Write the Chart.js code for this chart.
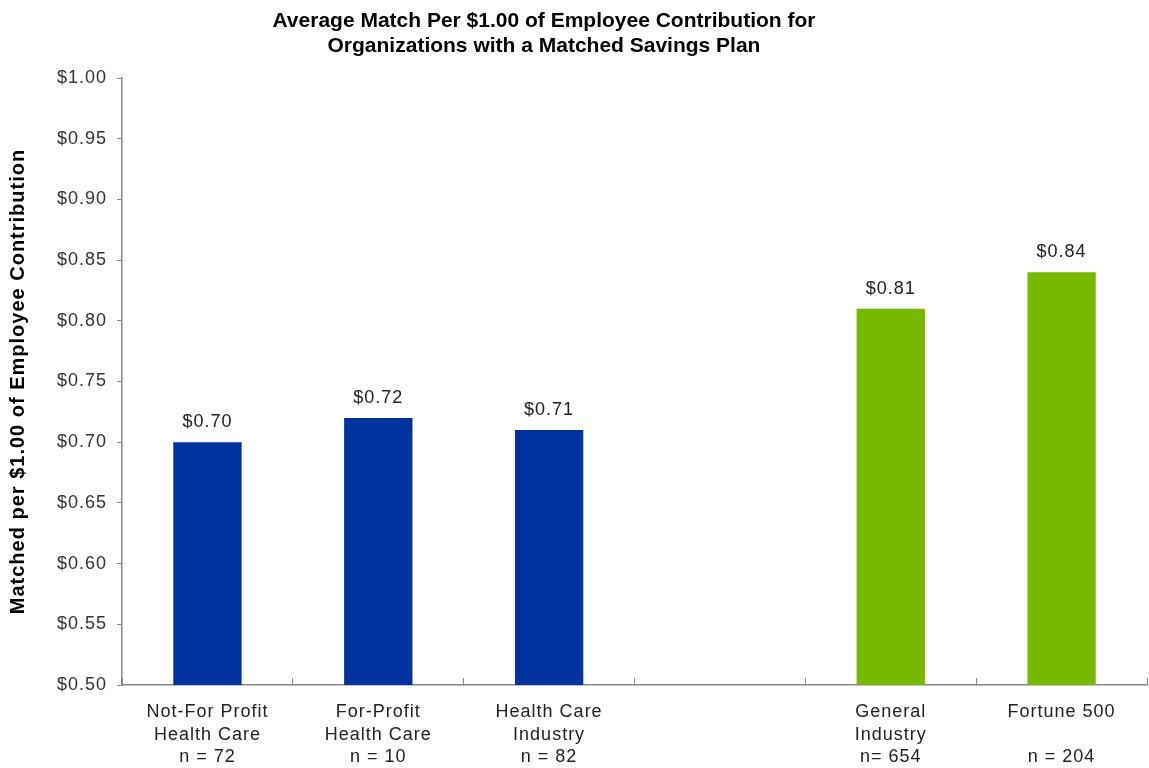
<!DOCTYPE html>
<html>
<head>
<meta charset="utf-8">
<script src="https://cdn.jsdelivr.net/npm/chart.js@4.4.0/dist/chart.umd.min.js"></script>
<style>
    html, body { margin: 0; padding: 0; background: #fff; }
    #wrap { position: relative; width: 1149px; height: 768px; }
    #titulo {
        position: absolute; left: 0; top: 7px; width: 1088px;
        text-align: center; font: bold 21px "Liberation Sans", Arial, sans-serif;
        line-height: 25px; color: #000;
    }
</style>
</head>
<body>
<div id="wrap">
    <div id="titulo">Average Match Per $1.00 of Employee Contribution for<br>Organizations with a Matched Savings Plan</div>
    <canvas id="grafico" width="1149" height="768"></canvas>
</div>
<script>
const categorias = [
    ["Not-For Profit", "Health Care", "n = 72"],
    ["For-Profit", "Health Care", "n = 10"],
    ["Health Care", "Industry", "n = 82"],
    "",
    ["General", "Industry", "n= 654"],
    ["Fortune 500", "", "n = 204"]
];
const valores = [0.70, 0.72, 0.71, null, 0.81, 0.84];
const cores = ["#0033a0", "#0033a0", "#0033a0", "#0033a0", "#77b800", "#77b800"];
const ticksY = [0.50, 0.55, 0.60, 0.65, 0.70, 0.75, 0.80, 0.85, 0.90, 0.95, 1.00];

// espaçamento entre letras parecido com o original
const espacamento = {
    id: "espacamento",
    beforeInit(chart) { chart.ctx.letterSpacing = "1px"; },
    beforeDraw(chart) { chart.ctx.letterSpacing = "1px"; }
};

const rotulos = {
    id: "rotulos",
    afterDatasetsDraw(chart) {
        const ctx = chart.ctx;
        const meta = chart.getDatasetMeta(0);
        ctx.save();
        ctx.font = "18px 'Liberation Sans', Arial, sans-serif";
        ctx.fillStyle = "#222";
        ctx.textAlign = "center";
        ctx.textBaseline = "bottom";
        meta.data.forEach((barra, i) => {
            if (valores[i] === null) return;
            ctx.fillText("$" + valores[i].toFixed(2), barra.x, barra.y - 11);
        });
        ctx.restore();
    }
};

const grafico = new Chart(document.getElementById("grafico"), {
    type: "bar",
    data: {
        labels: categorias,
        datasets: [{
            data: valores,
            backgroundColor: cores,
            barPercentage: 0.8,
            categoryPercentage: 0.5
        }]
    },
    options: {
        responsive: false,
        animation: false,
        layout: { padding: { top: 78, right: 2, left: 6, bottom: 0 } },
        plugins: {
            legend: { display: false },
            tooltip: { enabled: false }
        },
        scales: {
            x: {
                afterFit(scale) { scale.height = 83; },
                grid: { drawOnChartArea: false, color: "#888", tickLength: -7 },
                border: { color: "#888", width: 1.5 },
                ticks: {
                    color: "#222",
                    padding: 23,
                    font: { size: 18, family: "'Liberation Sans', Arial, sans-serif", lineHeight: 1.25 }
                }
            },
            y: {
                min: 0.5,
                max: 1.0,
                afterBuildTicks(scale) {
                    scale.ticks = ticksY.map(v => ({ value: v }));
                },
                grid: { drawOnChartArea: false, color: "#888", tickLength: 5 },
                border: { color: "#888", width: 1.5 },
                ticks: {
                    color: "#333",
                    padding: 10,
                    font: { size: 18, family: "'Liberation Sans', Arial, sans-serif" },
                    callback: v => "$" + v.toFixed(2)
                },
                title: {
                    display: true,
                    text: "Matched per $1.00 of Employee Contribution",
                    color: "#000",
                    padding: { top: 0, bottom: 22 },
                    font: { size: 20, weight: "bold", family: "'Liberation Sans', Arial, sans-serif" }
                }
            }
        }
    },
    plugins: [espacamento, rotulos]
});
</script>
</body>
</html>
